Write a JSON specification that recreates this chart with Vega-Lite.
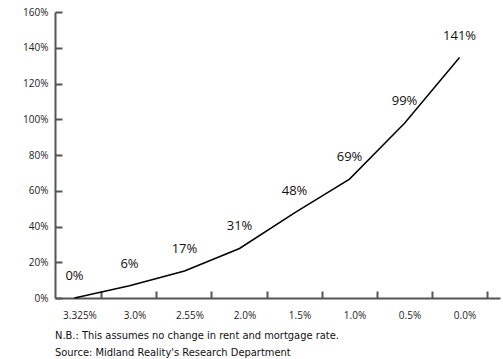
{
  "$schema": "https://vega.github.io/schema/vega-lite/v6.json",
  "width": 445,
  "height": 286,
  "autosize": {"type": "none"},
  "padding": {"left": 55, "top": 12, "right": 3, "bottom": 61},
  "background": "white",
  "config": {"view": {"stroke": null}, "font": "Open Sans"},
  "title": {
    "text": ["N.B.: This assumes no change in rent and mortgage rate.", "Source: Midland Reality's Research Department"],
    "orient": "bottom",
    "anchor": "start",
    "frame": "group",
    "font": "DejaVu Sans Condensed",
    "fontSize": 11,
    "fontWeight": "normal",
    "color": "#111111",
    "lineHeight": 17,
    "offset": 10
  },
  "data": {
    "values": [
      {"rate": "3.325%", "value": 0, "label": "0%"},
      {"rate": "3.0%", "value": 6.9, "label": "6%"},
      {"rate": "2.55%", "value": 15.1, "label": "17%"},
      {"rate": "2.0%", "value": 27.7, "label": "31%"},
      {"rate": "1.5%", "value": 47.6, "label": "48%"},
      {"rate": "1.0%", "value": 66.5, "label": "69%"},
      {"rate": "0.5%", "value": 97.8, "label": "99%"},
      {"rate": "0.0%", "value": 134.5, "label": "141%"}
    ]
  },
  "encoding": {
    "x": {
      "field": "rate",
      "type": "ordinal",
      "sort": null,
      "scale": {"type": "point", "padding": 0.545, "align": 0.325},
      "axis": {
        "title": null,
        "labelAngle": 0,
        "domainColor": "#555555",
        "domainWidth": 2,
        "tickColor": "#555555",
        "tickWidth": 2,
        "tickSize": -7,
        "tickOffset": 27,
        "labelOffset": -22,
        "labelFontSize": 10,
        "labelColor": "#222222",
        "labelPadding": 19
      }
    },
    "y": {
      "field": "value",
      "type": "quantitative",
      "scale": {"domain": [0, 160], "nice": false},
      "axis": {
        "title": null,
        "grid": false,
        "values": [0, 20, 40, 60, 80, 100, 120, 140, 160],
        "labelExpr": "datum.value + '%'",
        "domainColor": "#555555",
        "domainWidth": 2,
        "tickColor": "#555555",
        "tickWidth": 2,
        "tickSize": -7,
        "labelFontSize": 10,
        "labelColor": "#222222",
        "labelPadding": 14
      }
    }
  },
  "layer": [
    {"mark": {"type": "line", "color": "black", "strokeWidth": 1.5}},
    {
      "mark": {"type": "text", "dy": -22, "fontSize": 13, "color": "#111111"},
      "encoding": {"text": {"field": "label"}}
    }
  ]
}
